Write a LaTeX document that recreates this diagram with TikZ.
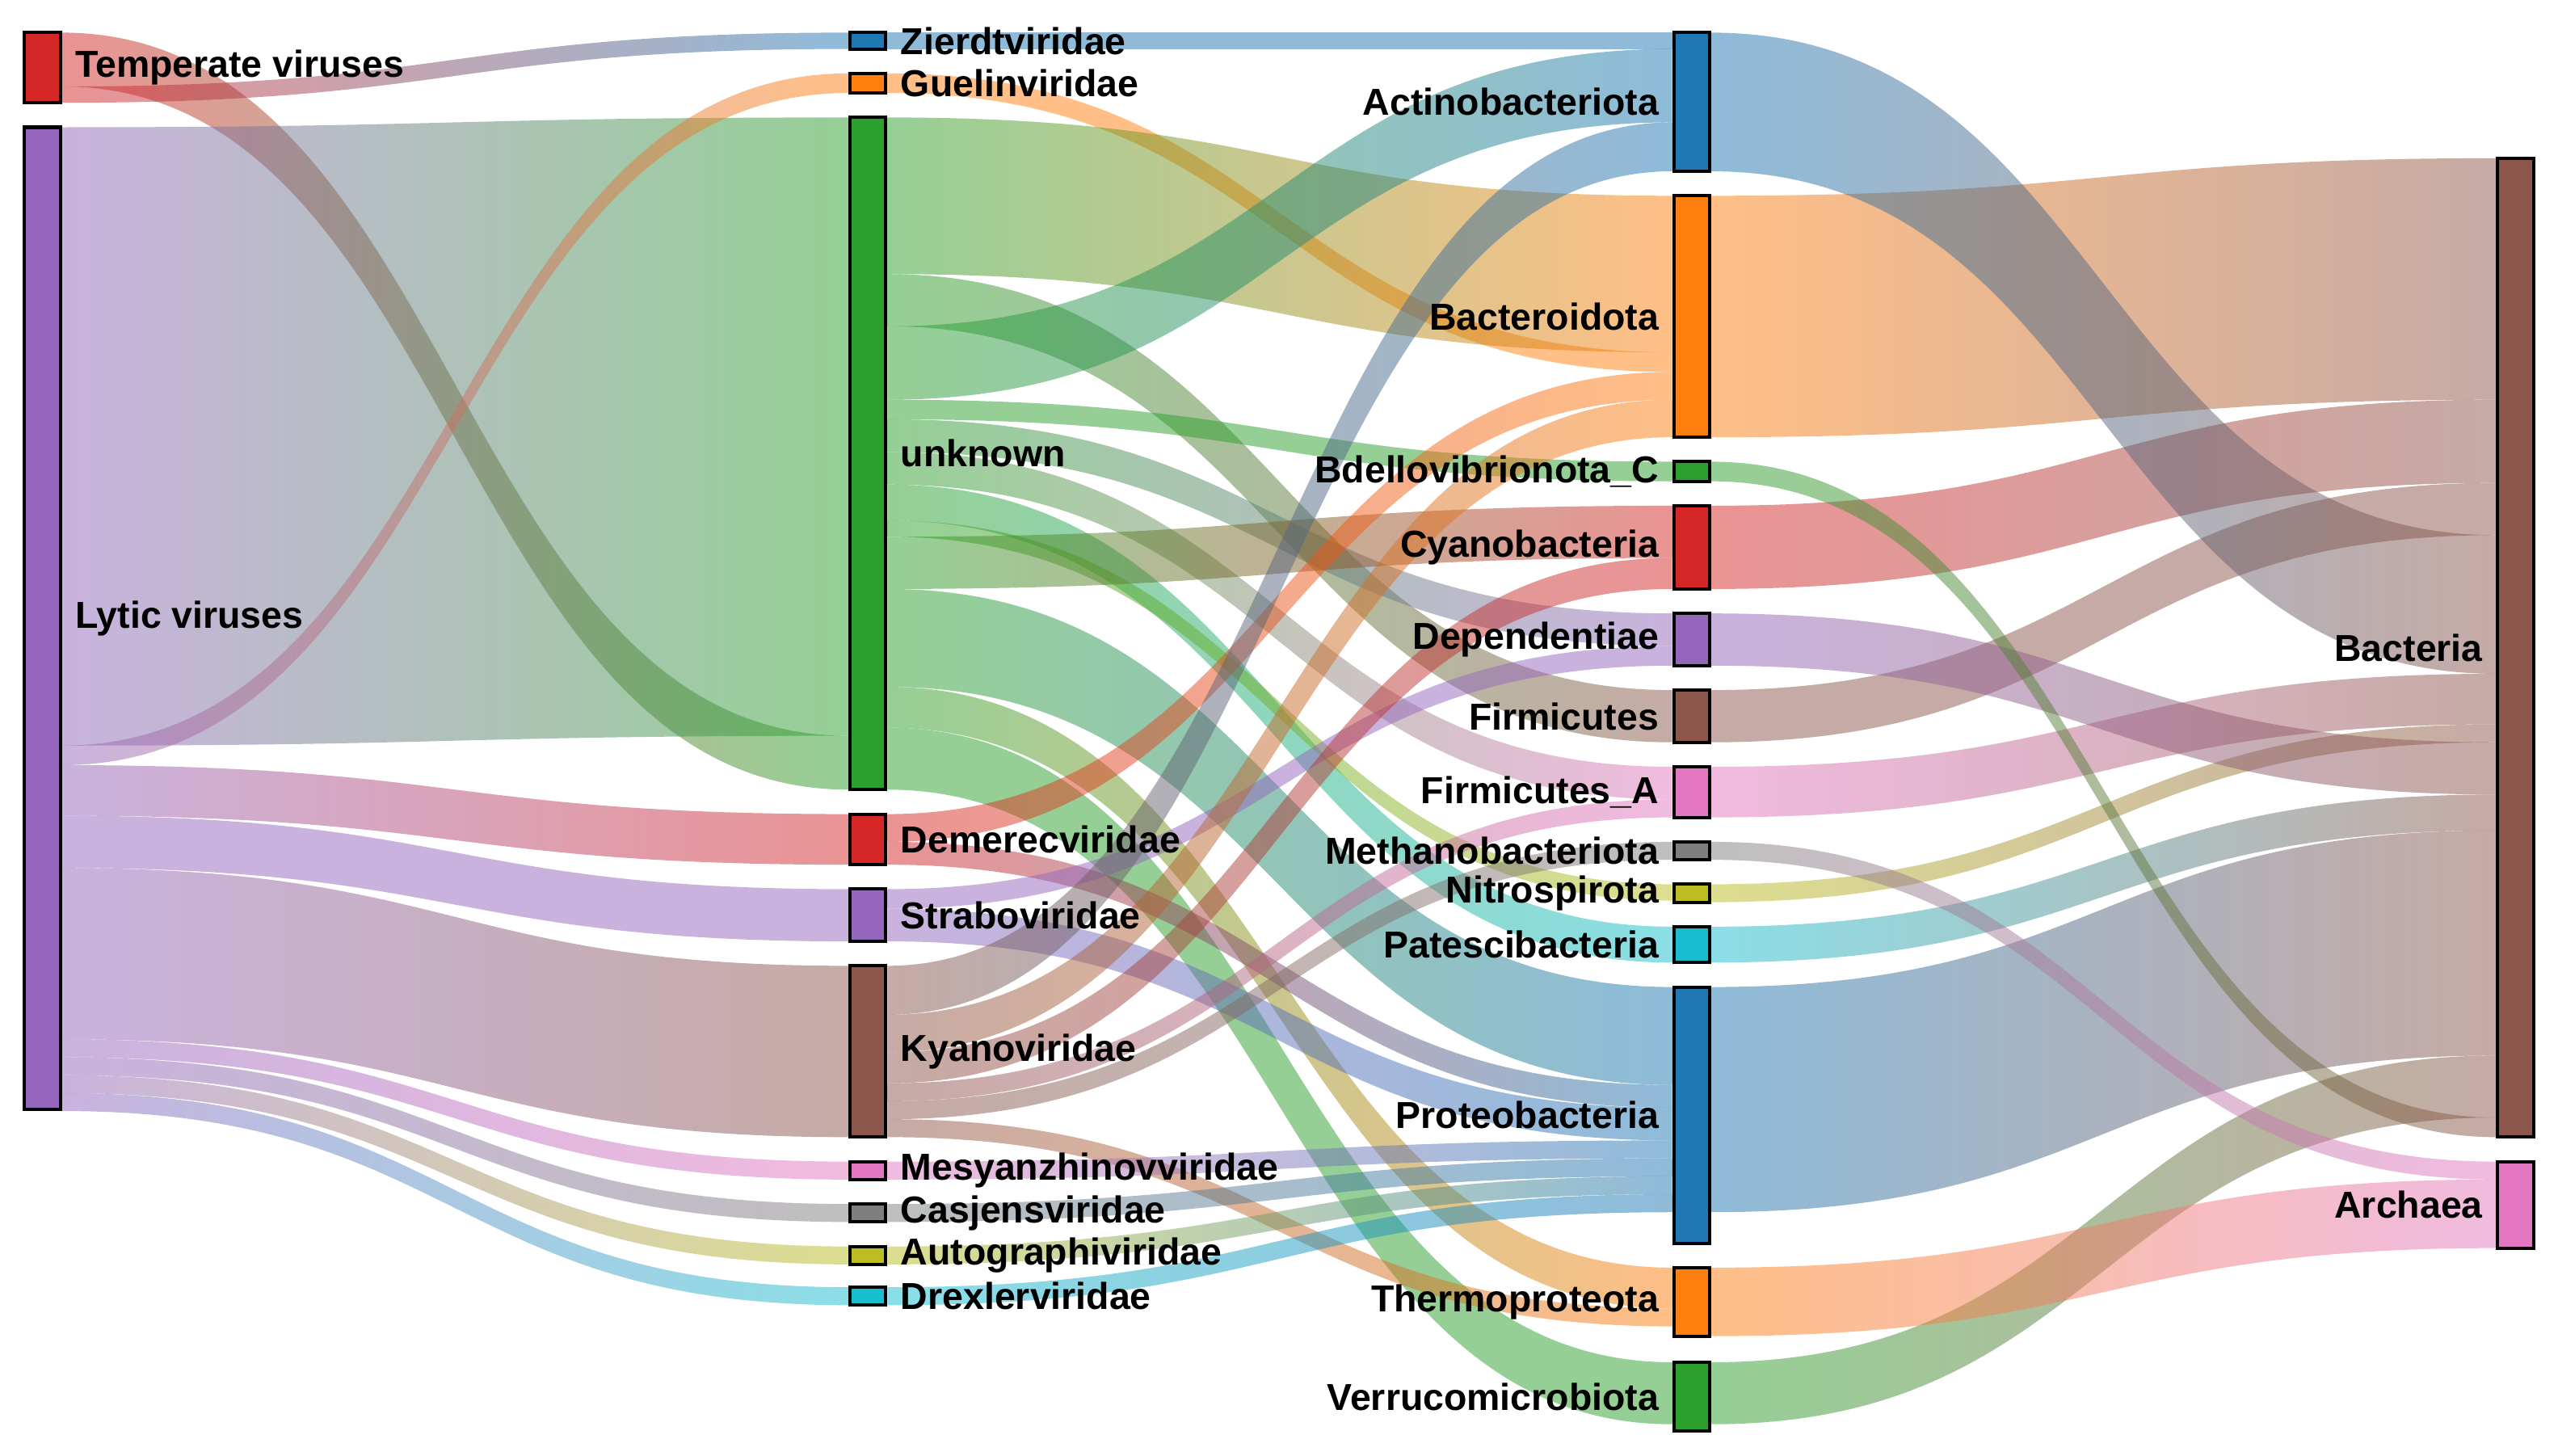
\documentclass[tikz,border=0pt]{standalone}
\usepackage{fontspec}
\setmainfont{Liberation Sans}
\definecolor{cr}{HTML}{D62728}\definecolor{cp}{HTML}{9467BD}\definecolor{cb}{HTML}{1F77B4}
\definecolor{co}{HTML}{FF7F0E}\definecolor{cg}{HTML}{2CA02C}\definecolor{cn}{HTML}{8C564B}
\definecolor{ck}{HTML}{E377C2}\definecolor{cy}{HTML}{7F7F7F}\definecolor{cl}{HTML}{BCBD22}
\definecolor{cc}{HTML}{17BECF}
\newcommand\fl[8]{\pgfmathsetmacro\mx{(#1+#2)/2}%
 \path[left color=#7, right color=#8, fill opacity=.5] (#1,-#3) .. controls (\mx,-#3) and (\mx,-#5) .. (#2,-#5) -- (#2,-#6) .. controls (\mx,-#6) and (\mx,-#4) .. (#1,-#4) -- cycle;}
\newcommand\nd[5]{\pgfmathsetmacro\hh{#4-#3}\pgfmathsetmacro\yc{-(#3+#4)/2}%
 \node[draw=black,line width=2pt,fill=#5,minimum width=22,minimum height=\hh,inner sep=0,outer sep=0] (#1) at (#2+12,\yc) {};}
\tikzset{lr/.style={anchor=west,font=\fontsize{23}{26}\selectfont\bfseries,inner sep=0},
 ll/.style={anchor=east,font=\fontsize{23}{26}\selectfont\bfseries,inner sep=0}}
\begin{document}
\begin{tikzpicture}[x=1pt,y=1pt]
\useasboundingbox (0,0) rectangle (1568,-892);
\def\a{38}\def\b{520}\def\c{544}\def\d{1025}\def\e{1049}\def\f{1530}
% col1 -> col2
\fl{\a}{\b}{20}{53}{451}{484}{cr}{cg}
\fl{\a}{\b}{53}{63}{20}{30}{cr}{cb}
\fl{\a}{\b}{78}{457}{72}{451}{cp}{cg}
\fl{\a}{\b}{457}{469}{45}{57}{cp}{co}
\fl{\a}{\b}{469}{500}{499}{530}{cp}{cr}
\fl{\a}{\b}{500}{532}{545}{577}{cp}{cp}
\fl{\a}{\b}{532}{637}{592}{697}{cp}{cn}
\fl{\a}{\b}{637}{648}{712}{723}{cp}{ck}
\fl{\a}{\b}{648}{659}{738}{749}{cp}{cy}
\fl{\a}{\b}{659}{670}{764}{775}{cp}{cl}
\fl{\a}{\b}{670}{681}{789}{800}{cp}{cc}
% col2 -> col3
\fl{\c}{\d}{20}{30}{20}{30}{cb}{cb}
\fl{\c}{\d}{45}{57}{216}{228}{co}{co}
\fl{\c}{\d}{72}{168}{120}{216}{cg}{co}
\fl{\c}{\d}{168}{200}{423}{455}{cg}{cn}
\fl{\c}{\d}{200}{245}{30}{75}{cg}{cb}
\fl{\c}{\d}{245}{257}{283}{295}{cg}{cg}
\fl{\c}{\d}{257}{277}{376}{396}{cg}{cp}
\fl{\c}{\d}{277}{297}{470}{490}{cg}{ck}
\fl{\c}{\d}{297}{319}{568}{590}{cg}{cc}
\fl{\c}{\d}{319}{329}{542}{552}{cg}{cl}
\fl{\c}{\d}{329}{361}{310}{342}{cg}{cr}
\fl{\c}{\d}{361}{421}{605}{665}{cg}{cb}
\fl{\c}{\d}{421}{446}{777}{802}{cg}{co}
\fl{\c}{\d}{446}{484}{835}{873}{cg}{cg}
\fl{\c}{\d}{499}{516}{228}{245}{cr}{co}
\fl{\c}{\d}{516}{530}{665}{679}{cr}{cb}
\fl{\c}{\d}{545}{557}{396}{408}{cp}{cp}
\fl{\c}{\d}{557}{577}{679}{699}{cp}{cb}
\fl{\c}{\d}{592}{622}{75}{105}{cn}{cb}
\fl{\c}{\d}{622}{645}{245}{268}{cn}{co}
\fl{\c}{\d}{645}{664}{342}{361}{cn}{cr}
\fl{\c}{\d}{664}{675}{490}{501}{cn}{ck}
\fl{\c}{\d}{675}{686}{516}{527}{cn}{cy}
\fl{\c}{\d}{686}{697}{802}{813}{cn}{co}
\fl{\c}{\d}{712}{723}{699}{710}{ck}{cb}
\fl{\c}{\d}{738}{749}{710}{721}{cy}{cb}
\fl{\c}{\d}{764}{775}{721}{732}{cl}{cb}
\fl{\c}{\d}{789}{800}{732}{743}{cc}{cb}
% col3 -> col4
\fl{\e}{\f}{120}{268}{97}{245}{co}{cn}
\fl{\e}{\f}{310}{361}{245}{296}{cr}{cn}
\fl{\e}{\f}{423}{455}{296}{328}{cn}{cn}
\fl{\e}{\f}{20}{105}{328}{413}{cb}{cn}
\fl{\e}{\f}{470}{501}{413}{444}{ck}{cn}
\fl{\e}{\f}{542}{553}{444}{455}{cl}{cn}
\fl{\e}{\f}{376}{408}{455}{487}{cp}{cn}
\fl{\e}{\f}{568}{590}{487}{509}{cc}{cn}
\fl{\e}{\f}{605}{743}{509}{647}{cb}{cn}
\fl{\e}{\f}{835}{873}{647}{685}{cg}{cn}
\fl{\e}{\f}{283}{295}{685}{697}{cg}{cn}
\fl{\e}{\f}{516}{527}{712}{723}{cy}{ck}
\fl{\e}{\f}{777}{819}{723}{765}{co}{ck}
% nodes
\nd{tv}{14}{20}{63}{cr}\nd{lv}{14}{78}{680}{cp}
\nd{zi}{520}{20}{30}{cb}\nd{gu}{520}{45}{57}{co}\nd{un}{520}{72}{484}{cg}
\nd{de}{520}{499}{530}{cr}\nd{st}{520}{545}{577}{cp}\nd{ky}{520}{592}{697}{cn}
\nd{me}{520}{712}{723}{ck}\nd{ca}{520}{738}{749}{cy}\nd{au}{520}{764}{775}{cl}\nd{dr}{520}{789}{800}{cc}
\nd{ac}{1025}{20}{105}{cb}\nd{ba}{1025}{120}{268}{co}\nd{bd}{1025}{283}{295}{cg}
\nd{cy}{1025}{310}{361}{cr}\nd{dp}{1025}{376}{408}{cp}\nd{fi}{1025}{423}{455}{cn}
\nd{fa}{1025}{470}{501}{ck}\nd{mb}{1025}{516}{527}{cy}\nd{ni}{1025}{542}{553}{cl}
\nd{pa}{1025}{568}{590}{cc}\nd{pr}{1025}{605}{762}{cb}\nd{th}{1025}{777}{819}{co}\nd{ve}{1025}{835}{877}{cg}
\nd{bc}{1530}{97}{697}{cn}\nd{ar}{1530}{712}{765}{ck}
% labels
\foreach \n/\t in {tv/Temperate viruses,lv/Lytic viruses,zi/Zierdtviridae,gu/Guelinviridae,un/unknown,de/Demerecviridae,st/Straboviridae,ky/Kyanoviridae,me/Mesyanzhinovviridae,ca/Casjensviridae,au/Autographiviridae,dr/Drexlerviridae}
 \node[lr] at ([xshift=9pt]\n.east) {\t};
\foreach \n/\t in {ac/Actinobacteriota,ba/Bacteroidota,bd/Bdellovibrionota\_C,cy/Cyanobacteria,dp/Dependentiae,fi/Firmicutes,fa/Firmicutes\_A,mb/Methanobacteriota,ni/Nitrospirota,pa/Patescibacteria,pr/Proteobacteria,th/Thermoproteota,ve/Verrucomicrobiota,bc/Bacteria,ar/Archaea}
 \node[ll] at ([xshift=-9pt]\n.west) {\t};
\end{tikzpicture}
\end{document}
